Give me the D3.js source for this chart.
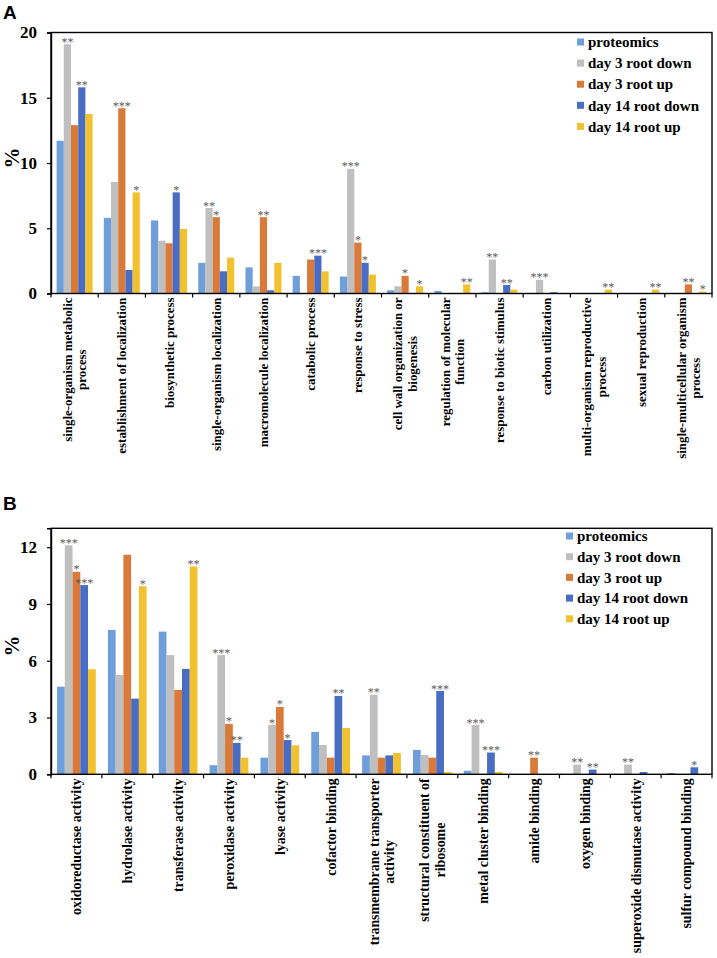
<!DOCTYPE html>
<html><head><meta charset="utf-8">
<script src="https://cdn.jsdelivr.net/npm/d3@7/dist/d3.min.js"></script>
<style>body{margin:0;background:#fff}svg{display:block}</style>
</head><body>
<svg id="chart" width="717" height="958"></svg>
<script>
// ---------- data ----------
const seriesNames = ["proteomics","day 3 root down","day 3 root up","day 14 root down","day 14 root up"];
const seriesColors = ["#6F9FDA","#BFBFBF","#D97A3A","#4A6DC4","#F2C12F"];

const categoriesA = ["single-organism metabolic|process","establishment of localization","biosynthetic process","single-organism localization","macromolecule localization","catabolic process","response to stress","cell wall organization or|biogenesis","regulation of molecular|function","response to biotic stimulus","carbon utilization","multi-organism reproductive|process","sexual reproduction","single-multicellular organism|process"];
const proteomicsA = [11.7, 5.8, 5.6, 2.35, 2.0, 1.35, 1.3, 0.25, 0.2, 0.1, 0, 0, 0, 0];
const day3DownA   = [19.1, 8.55, 4.05, 6.55, 0.55, 0, 9.55, 0.55, 0, 2.6, 1.05, 0, 0, 0];
const day3UpA     = [12.9, 14.2, 3.85, 5.85, 5.85, 2.6, 3.9, 1.35, 0, 0, 0, 0, 0, 0.7];
const day14DownA  = [15.8, 1.8, 7.75, 1.7, 0.25, 2.9, 2.35, 0, 0, 0.65, 0.1, 0, 0, 0];
const day14UpA    = [13.75, 7.75, 4.95, 2.75, 2.35, 1.7, 1.45, 0.55, 0.7, 0.3, 0, 0.3, 0.3, 0.15];
const starsProteomicsA = ["","","","","","","","","","","","","",""];
const starsDay3DownA   = ["**","","","**","","","***","","","**","***","","",""];
const starsDay3UpA     = ["","***","","*","**","","*","*","","","","","","**"];
const starsDay14DownA  = ["**","","*","","","***","*","","","**","","","",""];
const starsDay14UpA    = ["","*","","","","","","*","**","","","**","**","*"];
const ticksA = [0,5,10,15,20];

const categoriesB = ["oxidoreductase activity","hydrolase activity","transferase activity","peroxidase activity","lyase activity","cofactor binding","transmembrane transporter|activity","structural constituent of|ribosome","metal cluster binding","amide binding","oxygen binding","superoxide dismutase activity","sulfur compound binding"];
const proteomicsB = [4.63, 7.63, 7.54, 0.48, 0.88, 2.24, 1.0, 1.29, 0.19, 0, 0, 0, 0.07];
const day3DownB   = [12.1, 5.25, 6.3, 6.3, 2.6, 1.55, 4.2, 1.02, 2.6, 0, 0.51, 0.51, 0];
const day3UpB     = [10.7, 11.6, 4.46, 2.66, 3.56, 0.88, 0.88, 0.88, 0, 0.88, 0, 0, 0];
const day14DownB  = [10.0, 4.0, 5.57, 1.66, 1.81, 4.14, 1.0, 4.4, 1.15, 0, 0.25, 0.12, 0.37];
const day14UpB    = [5.55, 9.94, 10.98, 0.88, 1.53, 2.45, 1.13, 0.12, 0.12, 0, 0, 0, 0];
const starsProteomicsB = ["","","","","","","","","","","","",""];
const starsDay3DownB   = ["***","","","***","*","","**","","***","","**","**",""];
const starsDay3UpB     = ["*","","","*","*","","","","","**","","",""];
const starsDay14DownB  = ["***","","","**","*","**","","***","***","","**","","*"];
const starsDay14UpB    = ["","*","**","","","","","","","","","",""];
const ticksB = [0,3,6,9,12];

// ---------- drawing ----------
const svg = d3.select("#chart");
const SERIF = "'Liberation Serif','Times New Roman',serif";

function panel(cfg) {
  const g = svg.append("g");
  const x = d3.scaleBand().domain(cfg.categories).range([cfg.left, cfg.right]).paddingInner(0).paddingOuter(0);
  const y = d3.scaleLinear().domain([0, cfg.ymax]).range([cfg.bottom, cfg.top]);
  const xs = d3.scaleBand().domain(seriesNames).range([0, x.bandwidth()]).paddingInner(0).paddingOuter(0.78);

  const rows = [];
  cfg.values.forEach((vals, si) => vals.forEach((v, ci) => rows.push({s: seriesNames[si], si, c: cfg.categories[ci], v, star: cfg.stars[si][ci]})));

  // bars
  g.selectAll("rect.bar").data(rows.filter(d => d.v > 0)).join("rect")
    .attr("x", d => x(d.c) + xs(d.s))
    .attr("y", d => y(d.v))
    .attr("width", xs.bandwidth())
    .attr("height", d => y(0) - y(d.v))
    .attr("fill", d => seriesColors[d.si]);

  // stars
  g.selectAll("text.star").data(rows.filter(d => d.star)).join("text")
    .attr("x", d => x(d.c) + xs(d.s) + xs.bandwidth()/2)
    .attr("y", d => y(d.v) + 1.5)
    .attr("text-anchor", "middle")
    .attr("font-family", SERIF)
    .attr("font-size", 12)
    .attr("fill", "#595959")
    .text(d => d.star);

  // frame
  g.append("rect").attr("x", cfg.left).attr("y", cfg.top)
    .attr("width", cfg.right - cfg.left).attr("height", cfg.bottom - cfg.top)
    .attr("fill", "none").attr("stroke", "#000").attr("stroke-width", 1.4);

  // y axis
  const ya = d3.axisLeft(y).tickValues(cfg.ticks).tickSize(4).tickPadding(10).tickFormat(d3.format("d"));
  const yg = g.append("g").attr("transform", `translate(${cfg.left},0)`).call(ya);
  yg.select(".domain").attr("stroke", "#000").attr("stroke-width", 1.4);
  yg.selectAll(".tick line").attr("stroke", "#000").attr("stroke-width", 1.2);
  yg.selectAll(".tick text").attr("font-family", SERIF).attr("font-weight", "bold").attr("font-size", 17).attr("fill", "#000");

  // x axis boundary ticks
  const bounds = cfg.categories.map(c => x(c)).concat([cfg.right]);
  g.selectAll("line.xt").data(bounds).join("line")
    .attr("x1", d => d).attr("x2", d => d)
    .attr("y1", cfg.bottom).attr("y2", cfg.bottom + 4)
    .attr("stroke", "#000").attr("stroke-width", 1.2);

  const labelSize = cfg.labelSize;
  const lineH = labelSize * 1.12;

  // category labels (rotated)
  cfg.categories.forEach(c => {
    const lines = c.split("|");
    const cx = x(c) + x.bandwidth()/2;
    const lg = g.append("g").attr("transform", `translate(${cx},${cfg.bottom + 4}) rotate(-90)`);
    const n = lines.length;
    const texts = lines.map((t, i) => lg.append("text")
      .attr("font-family", SERIF).attr("font-weight", "bold").attr("font-size", labelSize)
      .attr("fill", "#000")
      .attr("y", (i - (n-1)/2) * lineH)
      .attr("dy", "0.35em")
      .text(t));
    const w = d3.max(texts, t => t.node().getComputedTextLength());
    texts.forEach(t => t.attr("text-anchor", "middle").attr("x", -w/2));
  });

  // y title
  g.append("text").attr("transform", `translate(${cfg.yTitleX},${cfg.yTitleY}) rotate(-90)`)
    .attr("text-anchor", "middle").attr("dy", "0.35em")
    .attr("font-family", SERIF).attr("font-weight", "bold").attr("font-size", 21)
    .attr("fill", "#000").text("%");

  // panel letter
  g.append("text").attr("x", 3).attr("y", cfg.letterY)
    .attr("font-family", "'Liberation Sans',Arial,sans-serif").attr("font-weight", "bold").attr("font-size", 19)
    .attr("fill", "#000").text(cfg.letter);

  // legend
  const lgd = g.append("g");
  seriesNames.forEach((s, i) => {
    const yy = cfg.legY + i * cfg.legStep;
    lgd.append("rect").attr("x", cfg.legX).attr("y", yy - 3.5).attr("width", 7).attr("height", 7).attr("fill", seriesColors[i]);
    lgd.append("text").attr("x", cfg.legX + 11).attr("y", yy).attr("dy", "0.35em")
      .attr("font-family", SERIF).attr("font-weight", "bold").attr("font-size", 15).attr("fill", "#000").text(s);
  });
}

panel({
  categories: categoriesA,
  values: [proteomicsA, day3DownA, day3UpA, day14DownA, day14UpA],
  stars: [starsProteomicsA, starsDay3DownA, starsDay3UpA, starsDay14DownA, starsDay14UpA],
  ticks: ticksA, ymax: 20,
  left: 51, right: 712, top: 32.5, bottom: 293.5,
  labelSize: 12.9,
  yTitleX: 12, yTitleY: 158,
  letter: "A", letterY: 19,
  legX: 577, legY: 42, legStep: 21.1
});

panel({
  categories: categoriesB,
  values: [proteomicsB, day3DownB, day3UpB, day14DownB, day14UpB],
  stars: [starsProteomicsB, starsDay3DownB, starsDay3UpB, starsDay14DownB, starsDay14UpB],
  ticks: ticksB, ymax: 13,
  left: 51, right: 712, top: 528.3, bottom: 774.3,
  labelSize: 13.9,
  yTitleX: 12, yTitleY: 646,
  letter: "B", letterY: 510,
  legX: 566, legY: 536, legStep: 20.7
});
</script>
</body></html>
